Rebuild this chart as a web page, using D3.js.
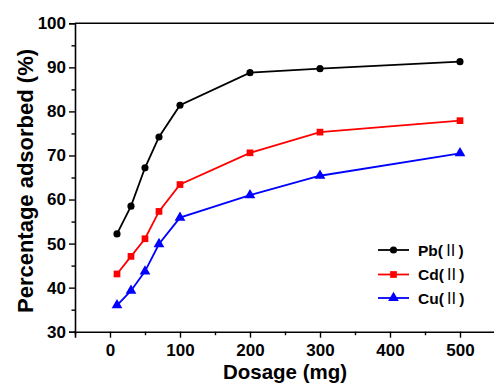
<!DOCTYPE html>
<html><head><meta charset="utf-8">
<script src="https://cdn.jsdelivr.net/npm/d3@7"></script>
<style>body{margin:0;background:#fff}svg{display:block}</style>
</head><body>
<svg id="c" width="494" height="385"></svg>
<script>
const dosage = [10, 30, 50, 70, 100, 200, 300, 500];
const pb = [52.2, 58.5, 67.2, 74.2, 81.4, 88.8, 89.7, 91.3];
const cd = [43.1, 47.1, 51.1, 57.3, 63.4, 70.6, 75.3, 77.9];
const cu = [36.0, 39.3, 43.7, 49.9, 55.9, 61.0, 65.4, 70.5];
const xTicks = [0, 100, 200, 300, 400, 500];
const yTicks = [30, 40, 50, 60, 70, 80, 90, 100];
const seriesNames = ["Pb", "Cd", "Cu"];
const seriesColors = ["#000000", "#ff0000", "#0000ff"];
const seriesShapes = [d3.symbolCircle, d3.symbolSquare, d3.symbolTriangle];
const seriesSizes = [40, 45, 50];

const svg = d3.select("#c");
const x = d3.scaleLinear().domain([-50, 550]).range([75, 495]);
const y = d3.scaleLinear().domain([30, 100]).range([331.7, 23.3]);
const FONT = "'Liberation Sans', Arial, sans-serif";

// top border
svg.append("line").attr("x1", x(-50)).attr("x2", x(550)).attr("y1", y(100)).attr("y2", y(100))
  .attr("stroke", "#000").attr("stroke-width", 1.6);

// x axis
const xMinor = d3.range(-50, 551, 50).filter(v => !xTicks.includes(v));
const gx = svg.append("g").attr("transform", `translate(0,${y(30)})`);
gx.call(d3.axisBottom(x).tickValues(xTicks).tickSize(6).tickPadding(6).tickFormat(d3.format("d")));
gx.selectAll(".tick").filter(function(){return false;});
const gxm = svg.append("g").attr("transform", `translate(0,${y(30)})`)
  .call(d3.axisBottom(x).tickValues(xMinor).tickSize(3.5).tickFormat(""));
gxm.select(".domain").remove();

// y axis
const yMinor = d3.range(35, 100, 10);
const gy = svg.append("g").attr("transform", `translate(${x(-50)},0)`);
gy.call(d3.axisLeft(y).tickValues(yTicks).tickSize(6).tickPadding(3).tickFormat(d3.format("d")));
const gym = svg.append("g").attr("transform", `translate(${x(-50)},0)`)
  .call(d3.axisLeft(y).tickValues(yMinor).tickSize(3.5).tickFormat(""));
gym.select(".domain").remove();

svg.selectAll(".domain").attr("stroke", "#000").attr("stroke-width", 1.6);
svg.selectAll(".tick line").attr("stroke", "#000").attr("stroke-width", 1.4);
svg.selectAll(".tick text").attr("font-family", FONT).attr("font-weight", "bold")
  .attr("font-size", 17).attr("fill", "#000");

// axis titles
svg.append("text").attr("x", x(250)).attr("y", 379).attr("text-anchor", "middle")
  .attr("font-family", FONT).attr("font-weight", "bold").attr("font-size", 20.5).text("Dosage (mg)");
svg.append("text").attr("transform", `translate(33,181) rotate(-90)`).attr("text-anchor", "middle")
  .attr("font-family", FONT).attr("font-weight", "bold").attr("font-size", 22).text("Percentage adsorbed (%)");

// series
const allSeries = [pb, cd, cu];
const line = d3.line().x((d, i) => x(dosage[i])).y(d => y(d));
allSeries.forEach((vals, si) => {
  const g = svg.append("g");
  g.append("path").datum(vals).attr("d", line).attr("fill", "none")
    .attr("stroke", seriesColors[si]).attr("stroke-width", 1.8);
  g.selectAll("path.m").data(vals).enter().append("path").attr("class", "m")
    .attr("transform", (d, i) => `translate(${x(dosage[i])},${y(d)})`)
    .attr("d", d3.symbol().type(seriesShapes[si]).size(seriesSizes[si]))
    .attr("fill", seriesColors[si]);
});

// legend
const legY = [250, 274.5, 298];
seriesNames.forEach((nm, si) => {
  const g = svg.append("g").attr("transform", `translate(0,${legY[si]})`);
  g.append("line").attr("x1", 378).attr("x2", 409).attr("y1", 0).attr("y2", 0)
    .attr("stroke", seriesColors[si]).attr("stroke-width", 1.8);
  g.append("path").attr("transform", "translate(393.5,0)")
    .attr("d", d3.symbol().type(seriesShapes[si]).size(seriesSizes[si])).attr("fill", seriesColors[si]);
  const t = g.append("text").attr("x", 418).attr("y", 5.5).attr("font-family", FONT)
    .attr("font-weight", "bold").attr("font-size", 15.5);
  t.append("tspan").text(nm + "(");
  t.append("tspan").attr("font-family", "'Noto Sans CJK SC', 'DejaVu Sans', sans-serif")
    .attr("font-weight", "normal").text("Ⅱ");
  t.append("tspan").text(")");
});
</script>
</body></html>
